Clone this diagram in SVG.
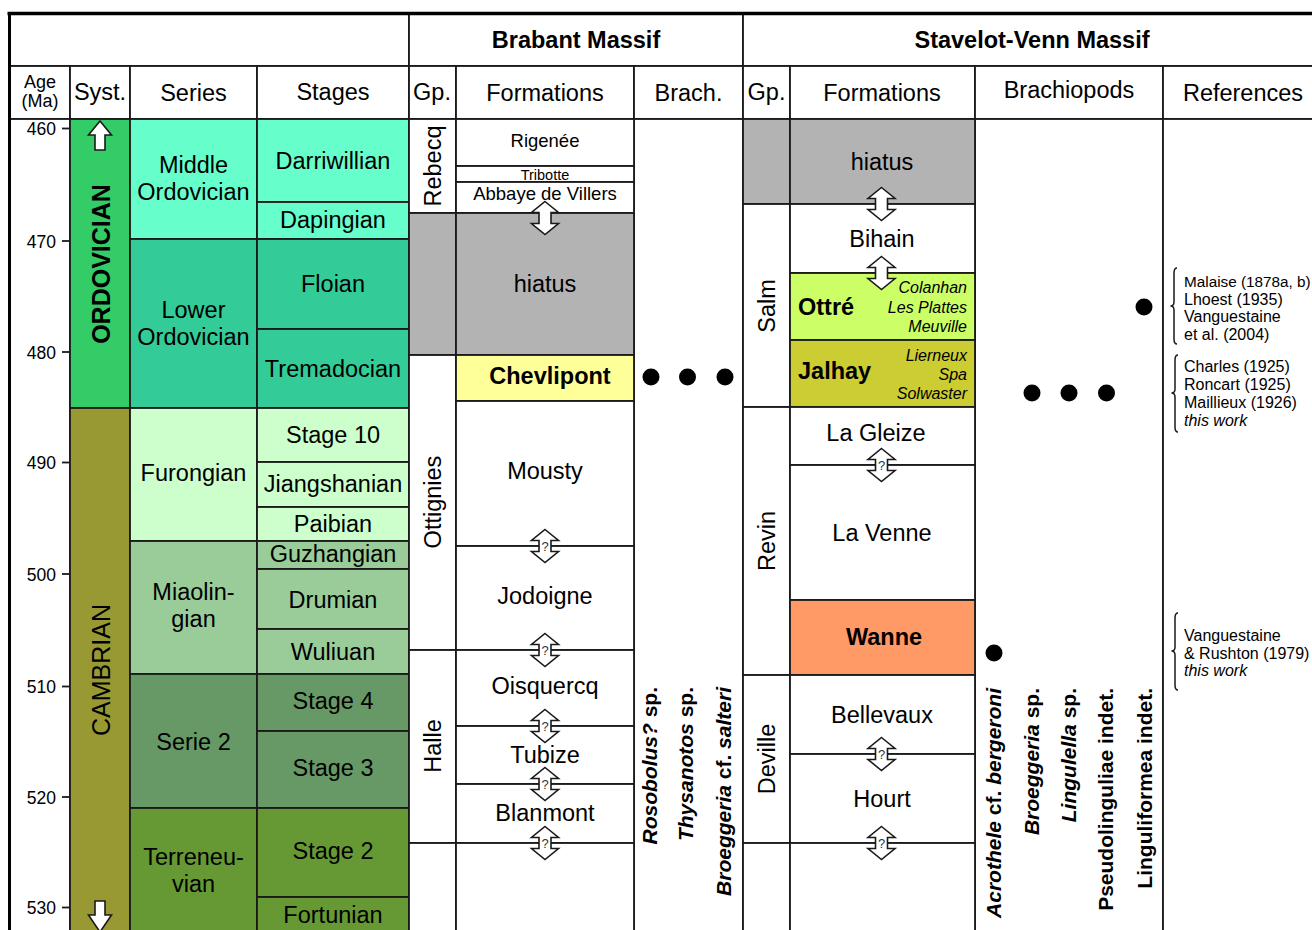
<svg xmlns="http://www.w3.org/2000/svg" width="1312" height="930" viewBox="0 0 1312 930">
<style>
.c{stroke:#1a1a1a;stroke-width:1.8}
.w{fill:#fff}
text{font-family:"Liberation Sans",Arial,Helvetica,sans-serif;fill:#000}
.m{font-size:23.5px;text-anchor:middle}
.b{font-weight:bold}
.i{font-style:italic}
.ag{font-size:17.5px;text-anchor:end}
.ref{font-size:16px}
.sm{font-size:16px;font-style:italic;text-anchor:end}
.vr{font-size:21px;font-weight:bold;text-anchor:end}
.tick{stroke:#1a1a1a;stroke-width:1.8}
.arr{fill:#fff;stroke:#1a1a1a;stroke-width:1.6}
.br{fill:none;stroke:#1a1a1a;stroke-width:1.5}
.q{font-size:13px;text-anchor:middle;fill:#333}
</style>
<defs>
<polygon id="dar" class="arr" points="0,-16.5 13.5,-5.5 6,-5.5 6,5.5 13.5,5.5 0,16.5 -13.5,5.5 -6,5.5 -6,-5.5 -13.5,-5.5"/>
<g id="darq"><use href="#dar"/><text class="q" x="0" y="5">?</text></g>
</defs>
<rect x="0" y="0" width="1312" height="930" fill="#fff"/>

<!-- header row 1 -->
<g id="hdr1">
<rect class="c w" x="9" y="13" width="400" height="53"/>
<rect class="c w" x="409" y="13" width="334" height="53"/>
<rect class="c w" x="743" y="13" width="590" height="53"/>
<text class="m b" x="576" y="48">Brabant Massif</text>
<text class="m b" x="1032" y="48">Stavelot-Venn Massif</text>
</g>

<!-- header row 2 -->
<g id="hdr2">
<rect class="c w" x="9" y="66" width="61" height="53"/>
<rect class="c w" x="70" y="66" width="60" height="53"/>
<rect class="c w" x="130" y="66" width="127" height="53"/>
<rect class="c w" x="257" y="66" width="152" height="53"/>
<rect class="c w" x="409" y="66" width="47" height="53"/>
<rect class="c w" x="456" y="66" width="178" height="53"/>
<rect class="c w" x="634" y="66" width="109" height="53"/>
<rect class="c w" x="743" y="66" width="47" height="53"/>
<rect class="c w" x="790" y="66" width="185" height="53"/>
<rect class="c w" x="975" y="66" width="188" height="53"/>
<rect class="c w" x="1163" y="66" width="170" height="53"/>
<text x="40" y="88" style="font-size:18px;text-anchor:middle">Age</text>
<text x="40" y="107" style="font-size:18px;text-anchor:middle">(Ma)</text>
<text class="m" x="100" y="100">Syst.</text>
<text class="m" x="193.5" y="101">Series</text>
<text class="m" x="333" y="100">Stages</text>
<text class="m" x="432" y="100">Gp.</text>
<text class="m" x="545" y="101">Formations</text>
<text class="m" x="688.5" y="101">Brach.</text>
<text class="m" x="766.5" y="100">Gp.</text>
<text class="m" x="882" y="101">Formations</text>
<text class="m" x="1069" y="98">Brachiopods</text>
<text class="m" x="1243" y="101">References</text>
</g>

<!-- body column frames -->
<g id="columns">
<rect class="c w" x="9" y="119" width="61" height="820"/>
<rect class="c w" x="634" y="119" width="109" height="820"/>
<rect class="c w" x="975" y="119" width="188" height="820"/>
<rect class="c w" x="1163" y="119" width="170" height="820"/>
</g>

<!-- age axis -->
<g id="age-axis">
<line class="tick" x1="62" y1="128.5" x2="70" y2="128.5"/>
<line class="tick" x1="62" y1="241" x2="70" y2="241"/>
<line class="tick" x1="62" y1="352" x2="70" y2="352"/>
<line class="tick" x1="62" y1="462.5" x2="70" y2="462.5"/>
<line class="tick" x1="62" y1="574" x2="70" y2="574"/>
<line class="tick" x1="62" y1="686.5" x2="70" y2="686.5"/>
<line class="tick" x1="62" y1="797" x2="70" y2="797"/>
<line class="tick" x1="62" y1="907.5" x2="70" y2="907.5"/>
<text class="ag" x="56" y="135">460</text>
<text class="ag" x="56" y="247.5">470</text>
<text class="ag" x="56" y="358.5">480</text>
<text class="ag" x="56" y="469">490</text>
<text class="ag" x="56" y="580.5">500</text>
<text class="ag" x="56" y="693">510</text>
<text class="ag" x="56" y="803.5">520</text>
<text class="ag" x="56" y="914">530</text>
</g>

<!-- systems -->
<g id="sys-ordovician">
<rect class="c" x="70" y="119" width="60" height="289" fill="#33CC66"/>
<text class="b" style="font-size:25px;text-anchor:middle" transform="translate(110,264) rotate(-90)">ORDOVICIAN</text>
<polygon class="arr" points="100,121 111.5,135 105,135 105,150 95,150 95,135 88.5,135"/>
</g>
<g id="sys-cambrian">
<rect class="c" x="70" y="408" width="60" height="530" fill="#999933"/>
<text style="font-size:25px;text-anchor:middle" transform="translate(110,670) rotate(-90)">CAMBRIAN</text>
<polygon class="arr" points="95,901 105,901 105,915 111.5,915 100,932 88.5,915 95,915"/>
</g>

<!-- series -->
<g id="series-middle-ordovician">
<rect class="c" x="130" y="119" width="127" height="120" fill="#66FFCC"/>
<text class="m" x="193.5" y="173">Middle</text>
<text class="m" x="193.5" y="200">Ordovician</text>
</g>
<g id="series-lower-ordovician">
<rect class="c" x="130" y="239" width="127" height="169" fill="#33CC99"/>
<text class="m" x="193.5" y="318">Lower</text>
<text class="m" x="193.5" y="345">Ordovician</text>
</g>
<g id="series-furongian">
<rect class="c" x="130" y="408" width="127" height="133" fill="#CCFFCC"/>
<text class="m" x="193.5" y="481">Furongian</text>
</g>
<g id="series-miaolingian">
<rect class="c" x="130" y="541" width="127" height="133" fill="#99CC99"/>
<text class="m" x="193.5" y="600">Miaolin-</text>
<text class="m" x="193.5" y="627">gian</text>
</g>
<g id="series-serie2">
<rect class="c" x="130" y="674" width="127" height="134" fill="#669966"/>
<text class="m" x="193.5" y="750">Serie 2</text>
</g>
<g id="series-terreneuvian">
<rect class="c" x="130" y="808" width="127" height="130" fill="#669933"/>
<text class="m" x="193.5" y="865">Terreneu-</text>
<text class="m" x="193.5" y="892">vian</text>
</g>

<!-- stages -->
<g id="stage-darriwillian"><rect class="c" x="257" y="119" width="152" height="83" fill="#66FFCC"/><text class="m" x="333" y="168.5">Darriwillian</text></g>
<g id="stage-dapingian"><rect class="c" x="257" y="202" width="152" height="37" fill="#66FFCC"/><text class="m" x="333" y="227.5">Dapingian</text></g>
<g id="stage-floian"><rect class="c" x="257" y="239" width="152" height="90" fill="#33CC99"/><text class="m" x="333" y="292">Floian</text></g>
<g id="stage-tremadocian"><rect class="c" x="257" y="329" width="152" height="79" fill="#33CC99"/><text class="m" x="333" y="377">Tremadocian</text></g>
<g id="stage-10"><rect class="c" x="257" y="408" width="152" height="54" fill="#CCFFCC"/><text class="m" x="333" y="443">Stage 10</text></g>
<g id="stage-jiangshanian"><rect class="c" x="257" y="462" width="152" height="45" fill="#CCFFCC"/><text class="m" x="333" y="492">Jiangshanian</text></g>
<g id="stage-paibian"><rect class="c" x="257" y="507" width="152" height="34" fill="#CCFFCC"/><text class="m" x="333" y="532">Paibian</text></g>
<g id="stage-guzhangian"><rect class="c" x="257" y="541" width="152" height="28" fill="#99CC99"/><text class="m" x="333" y="561.5">Guzhangian</text></g>
<g id="stage-drumian"><rect class="c" x="257" y="569" width="152" height="60" fill="#99CC99"/><text class="m" x="333" y="607.5">Drumian</text></g>
<g id="stage-wuliuan"><rect class="c" x="257" y="629" width="152" height="45" fill="#99CC99"/><text class="m" x="333" y="660">Wuliuan</text></g>
<g id="stage-4"><rect class="c" x="257" y="674" width="152" height="57" fill="#669966"/><text class="m" x="333" y="709">Stage 4</text></g>
<g id="stage-3"><rect class="c" x="257" y="731" width="152" height="77" fill="#669966"/><text class="m" x="333" y="776">Stage 3</text></g>
<g id="stage-2"><rect class="c" x="257" y="808" width="152" height="89" fill="#669933"/><text class="m" x="333" y="859">Stage 2</text></g>
<g id="stage-fortunian"><rect class="c" x="257" y="897" width="152" height="41" fill="#669933"/><text class="m" x="333" y="923">Fortunian</text></g>

<!-- Brabant groups -->
<g id="brabant-gp-rebecq"><rect class="c w" x="409" y="119" width="47" height="94"/><text class="m" transform="translate(441,166) rotate(-90)">Rebecq</text></g>
<g id="brabant-gp-hiatus"><rect class="c" x="409" y="213" width="47" height="142" fill="#B3B3B3"/></g>
<g id="brabant-gp-ottignies"><rect class="c w" x="409" y="355" width="47" height="295"/><text class="m" transform="translate(441,502) rotate(-90)">Ottignies</text></g>
<g id="brabant-gp-halle"><rect class="c w" x="409" y="650" width="47" height="193"/><text class="m" transform="translate(441,746) rotate(-90)">Halle</text></g>
<g id="brabant-gp-blank"><rect class="c w" x="409" y="843" width="47" height="95"/></g>

<!-- Brabant formations -->
<g id="fm-rigenee"><rect class="c w" x="456" y="119" width="178" height="47"/><text x="545" y="147" style="font-size:18.5px;text-anchor:middle">Rigenée</text></g>
<g id="fm-tribotte"><rect class="c w" x="456" y="166" width="178" height="16"/><text x="545" y="180" style="font-size:14.5px;text-anchor:middle">Tribotte</text></g>
<g id="fm-abbaye"><rect class="c w" x="456" y="182" width="178" height="31"/><text x="545" y="200" style="font-size:18.5px;text-anchor:middle">Abbaye de Villers</text></g>
<g id="fm-brabant-hiatus"><rect class="c" x="456" y="213" width="178" height="142" fill="#B3B3B3"/><text class="m" x="545" y="292">hiatus</text></g>
<g id="fm-chevlipont"><rect class="c" x="456" y="355" width="178" height="46" fill="#FFFF99"/><text class="m b" x="550" y="384">Chevlipont</text></g>
<g id="fm-mousty"><rect class="c w" x="456" y="401" width="178" height="145"/><text class="m" x="545" y="479">Mousty</text></g>
<g id="fm-jodoigne"><rect class="c w" x="456" y="546" width="178" height="104"/><text class="m" x="545" y="604">Jodoigne</text></g>
<g id="fm-oisquercq"><rect class="c w" x="456" y="650" width="178" height="76"/><text class="m" x="545" y="694">Oisquercq</text></g>
<g id="fm-tubize"><rect class="c w" x="456" y="726" width="178" height="58"/><text class="m" x="545" y="763">Tubize</text></g>
<g id="fm-blanmont"><rect class="c w" x="456" y="784" width="178" height="59"/><text class="m" x="545" y="821">Blanmont</text></g>
<g id="fm-brabant-blank"><rect class="c w" x="456" y="843" width="178" height="95"/></g>

<!-- Brabant brachiopods -->
<g id="brabant-brach">
<circle cx="651" cy="377" r="8.5"/>
<circle cx="687.5" cy="377" r="8.5"/>
<circle cx="725" cy="377" r="8.5"/>
<text class="vr" transform="translate(656.5,687) rotate(-90)"><tspan class="i">Rosobolus?</tspan> sp.</text>
<text class="vr" transform="translate(693,687) rotate(-90)"><tspan class="i">Thysanotos</tspan> sp.</text>
<text class="vr" transform="translate(731,687) rotate(-90)"><tspan class="i">Broeggeria</tspan> cf. <tspan class="i">salteri</tspan></text>
</g>

<!-- Stavelot groups -->
<g id="stavelot-gp-hiatus"><rect class="c" x="743" y="119" width="47" height="85" fill="#B3B3B3"/></g>
<g id="stavelot-gp-salm"><rect class="c w" x="743" y="204" width="47" height="203"/><text class="m" transform="translate(775,306) rotate(-90)">Salm</text></g>
<g id="stavelot-gp-revin"><rect class="c w" x="743" y="407" width="47" height="268"/><text class="m" transform="translate(775,541) rotate(-90)">Revin</text></g>
<g id="stavelot-gp-deville"><rect class="c w" x="743" y="675" width="47" height="168"/><text class="m" transform="translate(775,759) rotate(-90)">Deville</text></g>
<g id="stavelot-gp-blank"><rect class="c w" x="743" y="843" width="47" height="95"/></g>

<!-- Stavelot formations -->
<g id="fm-stavelot-hiatus"><rect class="c" x="790" y="119" width="185" height="85" fill="#B3B3B3"/><text class="m" x="882" y="170">hiatus</text></g>
<g id="fm-bihain"><rect class="c w" x="790" y="204" width="185" height="69"/><text class="m" x="882" y="247">Bihain</text></g>
<g id="fm-ottre"><rect class="c" x="790" y="273" width="185" height="67" fill="#CCFF66"/>
<text class="b" x="798" y="315" style="font-size:23.5px">Ottré</text>
<text class="sm" x="967" y="293">Colanhan</text>
<text class="sm" x="967" y="313">Les Plattes</text>
<text class="sm" x="967" y="332">Meuville</text></g>
<g id="fm-jalhay"><rect class="c" x="790" y="340" width="185" height="67" fill="#CCCC33"/>
<text class="b" x="798" y="379" style="font-size:23.5px">Jalhay</text>
<text class="sm" x="967" y="361">Lierneux</text>
<text class="sm" x="967" y="380">Spa</text>
<text class="sm" x="967" y="399">Solwaster</text></g>
<g id="fm-lagleize"><rect class="c w" x="790" y="407" width="185" height="58"/><text class="m" x="876" y="441">La Gleize</text></g>
<g id="fm-lavenne"><rect class="c w" x="790" y="465" width="185" height="135"/><text class="m" x="882" y="541">La Venne</text></g>
<g id="fm-wanne"><rect class="c" x="790" y="600" width="185" height="75" fill="#FF9966"/><text class="m b" x="884" y="645">Wanne</text></g>
<g id="fm-bellevaux"><rect class="c w" x="790" y="675" width="185" height="79"/><text class="m" x="882" y="723">Bellevaux</text></g>
<g id="fm-hourt"><rect class="c w" x="790" y="754" width="185" height="89"/><text class="m" x="882" y="807">Hourt</text></g>
<g id="fm-stavelot-blank"><rect class="c w" x="790" y="843" width="185" height="95"/></g>

<!-- Stavelot brachiopods -->
<g id="stavelot-brach">
<circle cx="1144" cy="307" r="8.5"/>
<circle cx="1032" cy="393" r="8.5"/>
<circle cx="1069" cy="393" r="8.5"/>
<circle cx="1106.5" cy="393" r="8.5"/>
<circle cx="994" cy="653" r="8.5"/>
<text class="vr" transform="translate(1001,688) rotate(-90)"><tspan class="i">Acrothele</tspan> cf. <tspan class="i">bergeroni</tspan></text>
<text class="vr" transform="translate(1038.5,688) rotate(-90)"><tspan class="i">Broeggeria</tspan> sp.</text>
<text class="vr" transform="translate(1075.5,688) rotate(-90)"><tspan class="i">Lingulella</tspan> sp.</text>
<text class="vr" transform="translate(1113,688) rotate(-90)">Pseudolinguliae indet.</text>
<text class="vr" transform="translate(1151.5,688) rotate(-90)">Linguliformea indet.</text>
</g>

<!-- references -->
<g id="refs-ottre">
<path class="br" d="M1177,268 Q1174,268 1174,273 L1174,302 Q1174,306 1170.5,306 Q1174,306 1174,310 L1174,339 Q1174,344 1177,344"/>
<text class="ref" x="1184" y="287" style="font-size:15.3px">Malaise (1878a, b)</text>
<text class="ref" x="1184" y="304.5">Lhoest (1935)</text>
<text class="ref" x="1184" y="322">Vanguestaine</text>
<text class="ref" x="1184" y="339.5">et al. (2004)</text>
</g>
<g id="refs-jalhay">
<path class="br" d="M1178,355 Q1175,355 1175,360 L1175,389 Q1175,393 1171.5,393 Q1175,393 1175,397 L1175,427 Q1175,432 1178,432"/>
<text class="ref" x="1184" y="372">Charles (1925)</text>
<text class="ref" x="1184" y="390">Roncart (1925)</text>
<text class="ref" x="1184" y="408">Maillieux (1926)</text>
<text class="ref i" x="1184" y="426">this work</text>
</g>
<g id="refs-wanne">
<path class="br" d="M1178,613 Q1175,613 1175,618 L1175,647 Q1175,651 1171.5,651 Q1175,651 1175,655 L1175,685 Q1175,690 1178,690"/>
<text class="ref" x="1184" y="641">Vanguestaine</text>
<text class="ref" x="1184" y="658.5">&amp; Rushton (1979)</text>
<text class="ref i" x="1184" y="676">this work</text>
</g>

<!-- outer frame -->
<g id="frame">
<line x1="7.5" y1="13.5" x2="1312" y2="13.5" stroke="#000" stroke-width="3.5"/>
<line x1="9.5" y1="12" x2="9.5" y2="930" stroke="#000" stroke-width="3"/>
</g>

<!-- boundary arrows -->
<g id="connectors">
<use href="#dar" x="545" y="218"/>
<use href="#darq" x="545" y="546"/>
<use href="#darq" x="545" y="650"/>
<use href="#darq" x="545" y="726"/>
<use href="#darq" x="545" y="784"/>
<use href="#darq" x="545" y="843"/>
<use href="#dar" x="881.5" y="204"/>
<use href="#dar" x="881.5" y="273"/>
<use href="#darq" x="881.5" y="465"/>
<use href="#darq" x="881.5" y="754"/>
<use href="#darq" x="881.5" y="843"/>
</g>
</svg>
